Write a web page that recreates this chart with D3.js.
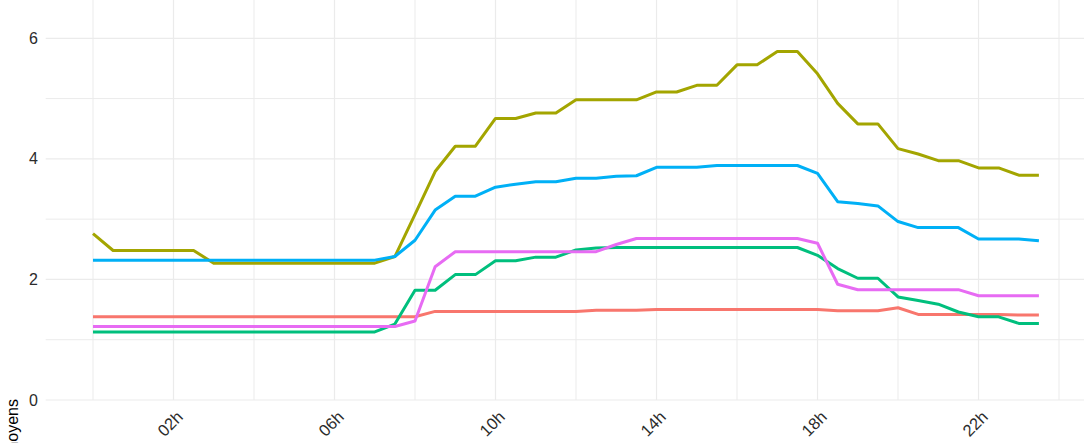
<!DOCTYPE html>
<html>
<head>
<meta charset="utf-8">
<script src="https://cdn.jsdelivr.net/npm/d3@7"></script>
<style>
  html, body { margin: 0; padding: 0; background: #ffffff; }
  svg { display: block; }
</style>
</head>
<body>
<svg id="chart" width="1084" height="443"></svg>
<script>
// Half-hour time points (hours)
const hours = [0,0.5,1,1.5,2,2.5,3,3.5,4,4.5,5,5.5,6,6.5,7,7.5,8,8.5,9,9.5,10,10.5,11,11.5,
               12,12.5,13,13.5,14,14.5,15,15.5,16,16.5,17,17.5,18,18.5,19,19.5,20,20.5,21,21.5,22,22.5,23,23.5];

const seriesNames = ["Série 1", "Série 2", "Série 3", "Série 4", "Série 5"];
const seriesColors = ["#F8766D", "#A3A500", "#00BF7D", "#00B0F6", "#E76BF3"];

const serie1 = [1.38,1.38,1.38,1.38,1.38,1.38,1.38,1.38,1.38,1.38,1.38,1.38,1.38,1.38,1.38,1.38,1.38,1.47,1.47,1.47,1.47,1.47,1.47,1.47,
                1.47,1.49,1.49,1.49,1.50,1.50,1.50,1.50,1.50,1.50,1.50,1.50,1.50,1.48,1.48,1.48,1.53,1.42,1.42,1.42,1.42,1.42,1.41,1.41];
const serie2 = [2.76,2.48,2.48,2.48,2.48,2.48,2.27,2.27,2.27,2.27,2.27,2.27,2.27,2.27,2.27,2.38,3.08,3.79,4.21,4.21,4.67,4.67,4.76,4.76,
                4.98,4.98,4.98,4.98,5.11,5.11,5.22,5.22,5.56,5.56,5.78,5.78,5.41,4.92,4.58,4.58,4.17,4.08,3.97,3.97,3.85,3.85,3.73,3.73];
const serie3 = [1.13,1.13,1.13,1.13,1.13,1.13,1.13,1.13,1.13,1.13,1.13,1.13,1.13,1.13,1.13,1.26,1.82,1.82,2.08,2.08,2.31,2.31,2.37,2.37,
                2.49,2.52,2.53,2.53,2.53,2.53,2.53,2.53,2.53,2.53,2.53,2.53,2.40,2.18,2.02,2.02,1.71,1.65,1.59,1.46,1.38,1.38,1.27,1.27];
const serie4 = [2.32,2.32,2.32,2.32,2.32,2.32,2.32,2.32,2.32,2.32,2.32,2.32,2.32,2.32,2.32,2.38,2.65,3.15,3.38,3.38,3.53,3.58,3.62,3.62,
                3.68,3.68,3.71,3.72,3.86,3.86,3.86,3.89,3.89,3.89,3.89,3.89,3.76,3.29,3.26,3.22,2.96,2.86,2.86,2.86,2.67,2.67,2.67,2.64];
const serie5 = [1.22,1.22,1.22,1.22,1.22,1.22,1.22,1.22,1.22,1.22,1.22,1.22,1.22,1.22,1.22,1.22,1.31,2.21,2.46,2.46,2.46,2.46,2.46,2.46,
                2.46,2.46,2.58,2.68,2.68,2.68,2.68,2.68,2.68,2.68,2.68,2.68,2.60,1.92,1.83,1.83,1.83,1.83,1.83,1.83,1.73,1.73,1.73,1.73];

const xMajorTicks = [2, 6, 10, 14, 18, 22];
const xTickLabels = ["02h", "06h", "10h", "14h", "18h", "22h"];
const xMinorTicks = [0, 4, 8, 12, 16, 20, 24];
const yMajorTicks = [0, 2, 4, 6];
const yTickLabels = ["0", "2", "4", "6"];
const yMinorTicks = [1, 3, 5, 7];
const yTitle = "Temps moyens";

const allSeries = [serie1, serie2, serie3, serie4, serie5];

const svg = d3.select("#chart");
const W = 1084, H = 443;
const panel = { left: 45.7, right: 1086.2, top: -40, bottom: 400 };

const x = d3.scaleLinear().domain([-1.175, 24.675]).range([panel.left, panel.right]);
const y = d3.scaleLinear().domain([0, 6]).range([400, 38.3]);

svg.append("rect").attr("x", 0).attr("y", 0).attr("width", W).attr("height", H).attr("fill", "#ffffff");

const grid = svg.append("g");
grid.selectAll("line.hmin").data(yMinorTicks).join("line")
  .attr("x1", panel.left).attr("x2", panel.right)
  .attr("y1", d => y(d)).attr("y2", d => y(d))
  .attr("stroke", "#EBEBEB").attr("stroke-width", 1);
grid.selectAll("line.hmaj").data(yMajorTicks).join("line")
  .attr("x1", panel.left).attr("x2", panel.right)
  .attr("y1", d => y(d)).attr("y2", d => y(d))
  .attr("stroke", "#EBEBEB").attr("stroke-width", 1.2);
grid.selectAll("line.vmin").data(xMinorTicks).join("line")
  .attr("x1", d => x(d)).attr("x2", d => x(d))
  .attr("y1", panel.top).attr("y2", panel.bottom)
  .attr("stroke", "#EBEBEB").attr("stroke-width", 1);
grid.selectAll("line.vmaj").data(xMajorTicks).join("line")
  .attr("x1", d => x(d)).attr("x2", d => x(d))
  .attr("y1", panel.top).attr("y2", panel.bottom)
  .attr("stroke", "#EBEBEB").attr("stroke-width", 1.2);

const line = d3.line().x((d, i) => x(hours[i])).y(d => y(d));
svg.append("g").selectAll("path").data(allSeries).join("path")
  .attr("d", d => line(d))
  .attr("fill", "none")
  .attr("stroke", (d, i) => seriesColors[i])
  .attr("stroke-width", 3)
  .attr("stroke-linejoin", "round")
  .attr("stroke-linecap", "butt");

const yAxis = d3.axisLeft(y).tickValues(yMajorTicks).tickFormat((d, i) => yTickLabels[i]).tickSize(0).tickPadding(0);
const yg = svg.append("g").attr("transform", "translate(38,0)").call(yAxis);
yg.select(".domain").remove();
yg.selectAll("text").attr("font-family", "Liberation Sans, Arial, sans-serif").attr("font-size", 16).attr("fill", "#2b2b2b");

const xAxis = d3.axisBottom(x).tickValues(xMajorTicks).tickFormat((d, i) => xTickLabels[i]).tickSize(0);
const xg = svg.append("g").attr("transform", "translate(0,400)").call(xAxis);
xg.select(".domain").remove();
xg.selectAll("text")
  .attr("font-family", "Liberation Sans, Arial, sans-serif").attr("font-size", 16.5).attr("fill", "#2b2b2b")
  .attr("text-anchor", "end")
  .attr("y", 0).attr("dy", "0")
  .attr("transform", "translate(10,18) rotate(-45)");

svg.append("text")
  .attr("transform", "translate(18,399) rotate(-90)")
  .attr("text-anchor", "end")
  .attr("font-family", "Liberation Sans, Arial, sans-serif")
  .attr("font-size", 16)
  .attr("fill", "#000000")
  .text(yTitle);
</script>
</body>
</html>
